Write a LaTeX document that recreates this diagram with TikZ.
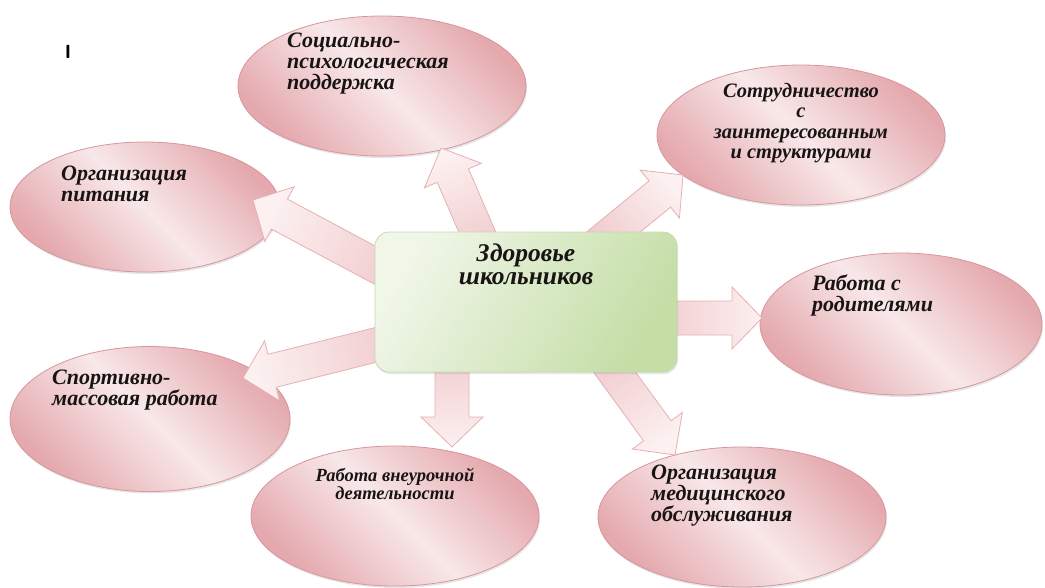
\documentclass[tikz,border=0pt]{standalone}
\usepackage{fontspec}
\setmainfont{Liberation Serif}
\usetikzlibrary{calc,shapes.geometric,shadows}

\definecolor{elldark}{RGB}{228,168,173}
\definecolor{elllight}{RGB}{248,232,233}
\definecolor{elledge}{RGB}{214,150,156}
\definecolor{arrlight}{RGB}{252,240,240}
\definecolor{arrdark}{RGB}{240,200,203}
\definecolor{arredge}{RGB}{228,176,180}
\definecolor{hublight}{RGB}{240,246,232}
\definecolor{hubdark}{RGB}{196,222,166}
\definecolor{hubedge}{RGB}{200,216,178}
\definecolor{txtcol}{RGB}{25,20,20}

\pgfdeclarelayer{back}
\pgfdeclarelayer{mid}
\pgfsetlayers{back,mid,main}

\tikzset{
  bubble/.style={ellipse, draw=elledge, line width=0.8pt, inner sep=0pt,
    minimum width=288pt, minimum height=140pt,
    left color=elldark, right color=elldark, middle color=elllight, shading angle=135,
    drop shadow={opacity=0.2, shadow xshift=1pt, shadow yshift=-2pt}},
  hubbox/.style={rectangle, rounded corners=14pt, draw=hubedge, line width=0.8pt,
    minimum width=302pt, minimum height=140pt,
    left color=hublight, right color=hubdark, shading angle=60,
    drop shadow={opacity=0.2, shadow xshift=1pt, shadow yshift=-2pt}},
  lbl/.style={font=\fontsize{22}{21}\selectfont\bfseries\itshape, text=txtcol,
    inner sep=0pt, align=left, anchor=west},
  hubtxt/.style={font=\fontsize{25.5}{23}\selectfont\bfseries\itshape, text=txtcol,
    inner sep=0pt, align=center},
  barrow/.style={draw=arredge, line width=0.8pt, top color=arrlight, bottom color=arrdark},
}

% block arrow from #1 (tail) to #2 (tip)
\newcommand\blkarrow[2]{%
  \pgfmathanglebetweenpoints{\pgfpointanchor{#1}{center}}{\pgfpointanchor{#2}{center}}%
  \pgfmathsetmacro\barang{\pgfmathresult-90}%
  \coordinate (hb) at ($(#2)!30pt!(#1)$);
  \draw[barrow, shading angle=\barang] ($(#1)!17pt!90:(#2)$) -- ($(hb)!17pt!90:(#2)$)
    -- ($(hb)!31pt!90:(#2)$) -- (#2) -- ($(hb)!31pt!-90:(#2)$)
    -- ($(hb)!17pt!-90:(#2)$) -- ($(#1)!17pt!-90:(#2)$) -- cycle;
}

\begin{document}
\begin{tikzpicture}[x=1pt, y=-1pt]
\useasboundingbox (0,0) rectangle (1045,587);

\begin{pgfonlayer}{back}
\node[bubble] (soc) at (382,86) {};
\node[bubble, minimum width=270pt, minimum height=130pt] (pit) at (145,207) {};
\node[bubble] (sotr) at (801,135) {};
\node[bubble, minimum width=282pt, minimum height=142pt] (rod) at (901,324) {};
\node[bubble, minimum width=280pt, minimum height=145pt] (sport) at (150,419) {};
\node[bubble] (vneur) at (395,516) {};
\node[bubble] (med) at (742,517) {};
\end{pgfonlayer}

\node[hubbox] (hub) at (526,302) {};
\node[hubtxt] (hubt) at ($(hub)+(0,-38)$) {Здоровье\\школьников};

\node[font=\sffamily\bfseries\fontsize{19}{19}\selectfont] (mark) at (68,52) {I};

\node[lbl] (soct) at ($(soc)+(-95,-22)$) {Социально-\\психологическая\\поддержка};
\node[lbl] (pitt) at ($(pit)+(-84,-23)$) {Организация\\питания};
\node[lbl, font=\fontsize{20.5}{20.5}\selectfont\bfseries\itshape, align=center, anchor=center]
  (sotrt) at ($(sotr)+(0,-12)$) {Сотрудничество\\с\\заинтересованным\\и структурами};
\node[lbl] (rodt) at ($(rod)+(-89,-29)$) {Работа с\\родителями};
\node[lbl] (sportt) at ($(sport)+(-98,-29)$) {Спортивно-\\массовая работа};
\node[lbl, font=\fontsize{18.5}{18}\selectfont\bfseries\itshape, align=center, anchor=center]
  (vneurt) at ($(vneur)+(0,-32)$) {Работа внеурочной\\деятельности};
\node[lbl] (medt) at ($(med)+(-91,-21)$) {Организация\\медицинского\\обслуживания};

\begin{pgfonlayer}{mid}
\coordinate (soc-tail) at ($(hub.north)+(-36,30)$);
\coordinate (soc-tip) at ($(soc)+(59,62)$);
\coordinate (pit-tail) at ($(hub.west)+(45,-13)$);
\coordinate (pit-tip) at ($(pit)+(108,-7)$);
\coordinate (sotr-tail) at ($(hub.north)+(66,18)$);
\coordinate (sotr-tip) at ($(sotr)+(-118,40)$);
\coordinate (rod-tail) at ($(hub.east)+(-37,16)$);
\coordinate (rod-tip) at ($(rod)+(-139,-6)$);
\coordinate (sport-tail) at ($(hub.west)+(45,32)$);
\coordinate (sport-tip) at ($(sport)+(93,-41)$);
\coordinate (vneur-tail) at ($(hub.south)+(-74,-32)$);
\coordinate (vneur-tip) at ($(vneur)+(57,-69)$);
\coordinate (med-tail) at ($(hub.south)+(69,-27)$);
\coordinate (med-tip) at ($(med)+(-67,-62)$);

\blkarrow{soc-tail}{soc-tip}
\blkarrow{pit-tail}{pit-tip}
\blkarrow{sotr-tail}{sotr-tip}
\blkarrow{rod-tail}{rod-tip}
\blkarrow{sport-tail}{sport-tip}
\blkarrow{vneur-tail}{vneur-tip}
\blkarrow{med-tail}{med-tip}
\end{pgfonlayer}
\end{tikzpicture}
\end{document}
